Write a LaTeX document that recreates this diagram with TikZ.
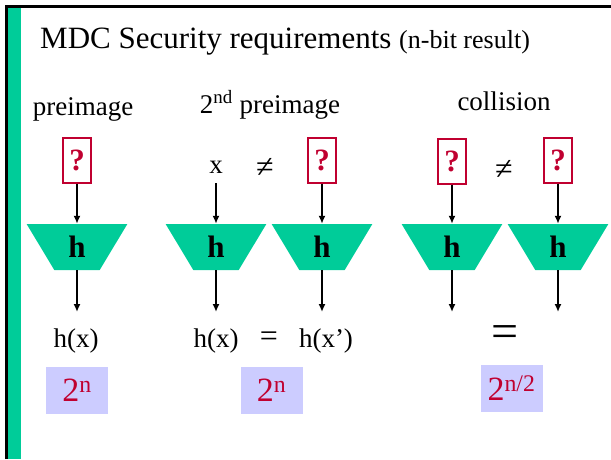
\documentclass[tikz,border=0pt]{standalone}
\usepackage{fontspec}
\setmainfont{Liberation Serif}
\usetikzlibrary{shapes.geometric,arrows.meta}
\definecolor{hgreen}{HTML}{00CC99}
\definecolor{hred}{HTML}{C00030}
\definecolor{lavender}{HTML}{CCCCFF}
\begin{document}
\begin{tikzpicture}[x=1pt,y=-1pt,
		lbl/.style={font=\fontsize{27}{30}\selectfont,inner sep=0pt},
		sign/.style={font=\fontsize{32}{34}\selectfont,inner sep=0pt},
		qbox/.style={draw=hred,line width=2pt,minimum width=28pt,minimum height=45pt,inner sep=0pt,text=hred,font=\fontsize{31}{33}\selectfont\bfseries},
		hbox/.style={trapezium,trapezium angle=64,trapezium stretches=true,shape border rotate=180,minimum width=101pt,minimum height=46pt,inner sep=0pt,fill=hgreen,font=\fontsize{31}{33}\selectfont\bfseries},
		cost/.style={fill=lavender,minimum width=62pt,minimum height=47pt,inner sep=0pt,text=hred,font=\fontsize{34}{36}\selectfont},
		arr/.style={-{Latex[length=8pt,width=7pt]},line width=1.8pt}]
		\useasboundingbox (0,0) rectangle (611,459);
		\fill[hgreen] (8,8) rectangle (20.5,459);
		\draw[line width=3pt] (6.5,459) -- (6.5,6.5) -- (611,6.5);
		
		\node[anchor=base west,inner sep=0pt,font=\fontsize{31}{34}\selectfont] (title) at (40,48.5) {MDC Security requirements {\fontsize{26}{28}\selectfont(n-bit result)}};
		
		\node[lbl,anchor=base] (pre) at (83,115) {preimage};
		\node[lbl,anchor=base] (snd) at (270,113) {2\textsuperscript{nd} preimage};
		\node[lbl,anchor=base] (col) at (504,110) {collision};
		
		\node[qbox] (q1) at (77,160) {?};
		\node[lbl,anchor=base] (x2) at (216,173) {x};
		\node[sign] (ne2) at (265,168) {≠};
		\node[qbox] (q3) at (322,160) {?};
		\node[qbox] (q4) at (452,161) {?};
		\node[sign] (ne4) at (504,170) {≠};
		\node[qbox] (q5) at (558,160) {?};
		
		\node[hbox] (h1) at (77,247) {h};
		\node[hbox] (h2) at (216,247) {h};
		\node[hbox] (h3) at (322,247) {h};
		\node[hbox] (h4) at (452,247) {h};
		\node[hbox] (h5) at (558,247) {h};
		
		\draw[arr] (q1) -- (h1);
		\draw[arr,shorten <=10pt] (x2) -- (h2);
		\draw[arr] (q3) -- (h3);
		\draw[arr] (q4) -- (h4);
		\draw[arr] (q5) -- (h5);
		
		\coordinate (e1) at (77,312);
		\coordinate (e2) at (216,312);
		\coordinate (e3) at (322,312);
		\coordinate (e4) at (452,312);
		\coordinate (e5) at (558,312);
		\draw[arr] (h1) -- (e1);
		\draw[arr] (h2) -- (e2);
		\draw[arr] (h3) -- (e3);
		\draw[arr] (h4) -- (e4);
		\draw[arr] (h5) -- (e5);
		
		\node[lbl,anchor=base] (hx1) at (76,347) {h(x)};
		\node[lbl,anchor=base] (hx2) at (216,347) {h(x)};
		\node[sign,anchor=base] (eq2) at (269,346) {=};
		\node[lbl,anchor=base] (hx3) at (326,347) {h(x’)};
		\node[anchor=base,inner sep=0pt,font=\fontsize{48}{50}\selectfont] (eq4) at (505,347) {=};
		
		\node[cost] (c1) at (77,390.5) {2\textsuperscript{n}};
		\node[cost] (c2) at (271.5,390.5) {2\textsuperscript{n}};
		\node[cost] (c3) at (511.5,388.5) {2\textsuperscript{n/2}};
	\end{tikzpicture}
\end{document}
